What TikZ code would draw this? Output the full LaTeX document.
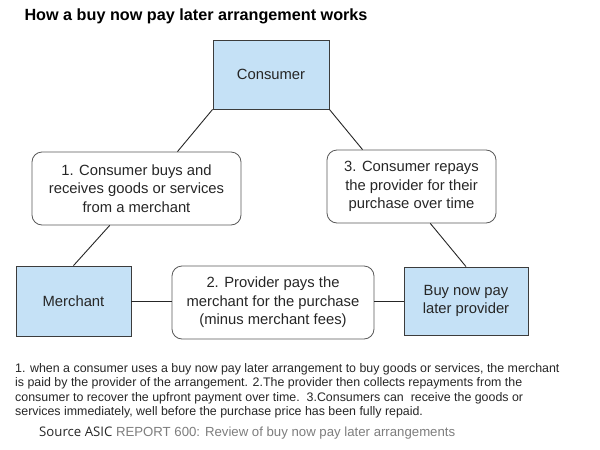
\documentclass[tikz,border=0pt]{standalone}
\usepackage{fontspec}
\setmainfont{Liberation Sans}
\newfontfamily\srcfont{Open Sans}
\definecolor{boxblue}{RGB}{197,225,246}
\definecolor{boxline}{RGB}{60,60,60}
\definecolor{notegray}{RGB}{125,125,125}
\tikzset{
  party/.style={draw=boxline, fill=boxblue, align=center, text=black!85,
    font=\fontsize{14.8}{18.5}\selectfont, inner sep=0pt, line width=0.8pt},
  stepbox/.style={draw=boxline!85, rounded corners=10pt, align=center, text=black!85,
    font=\fontsize{14.8}{18.5}\selectfont, inner sep=0pt, line width=0.8pt},
  link/.style={draw=black!85, line width=0.9pt}
}
\begin{document}
\begin{tikzpicture}[x=1pt,y=-1pt]
\useasboundingbox (0,0) rectangle (600,450);
\node(title) at (21,16.5)[anchor=west,font=\bfseries\fontsize{16.2}{19}\selectfont] {How a buy now pay later arrangement works};
\node(consumer) at (271,74.5)[party,minimum width=116pt,minimum height=69pt] {Consumer};
\node(step1) at (136.5,188.5)[stepbox,minimum width=209pt,minimum height=73pt] {1. Consumer buys and\\receives goods or services\\from a merchant};
\node(step3) at (411.5,186.5)[stepbox,minimum width=169pt,minimum height=73pt] {3. Consumer repays\\the provider for their\\purchase over time};
\node(merchant) at (73.5,301)[party,minimum width=115pt,minimum height=70pt] {Merchant};
\node(step2) at (273,302.5)[stepbox,minimum width=202pt,minimum height=73pt] {2. Provider pays the\\merchant for the purchase\\(minus merchant fees)};
\node(bnpl) at (466,301)[party,minimum width=124pt,minimum height=68pt] {Buy now pay\\later provider};
\draw[link] (consumer.south west) -- (step1.42);
\draw[link] (consumer.south east) -- (step3.143);
\draw[link] (step1.234) -- (merchant.north);
\draw[link] (step3.297) -- (bnpl.north);
\draw[link] (merchant.east) -- (merchant.east -| step2.west);
\draw[link] (step2.east |- bnpl.west) -- (bnpl.west);
\node(note) at (15,363.5)[anchor=north west,align=left,inner sep=0pt,text=black!85,font=\fontsize{12.4}{14.2}\selectfont] {1. when a consumer uses a buy now pay later arrangement to buy goods or services, the merchant\\is paid by the provider of the arrangement. 2.The provider then collects repayments from the\\consumer to recover the upfront payment over time.\ \ 3.Consumers can\ \ receive the goods or\\services immediately, well before the purchase price has been fully repaid.};
\node(source) at (39,436)[anchor=base west,inner sep=0pt,font=\fontsize{13.2}{15}\selectfont] {{\srcfont\color{black!85}Source ASIC} \textcolor{notegray}{REPORT 600: Review of buy now pay later arrangements}};
\end{tikzpicture}
\end{document}
